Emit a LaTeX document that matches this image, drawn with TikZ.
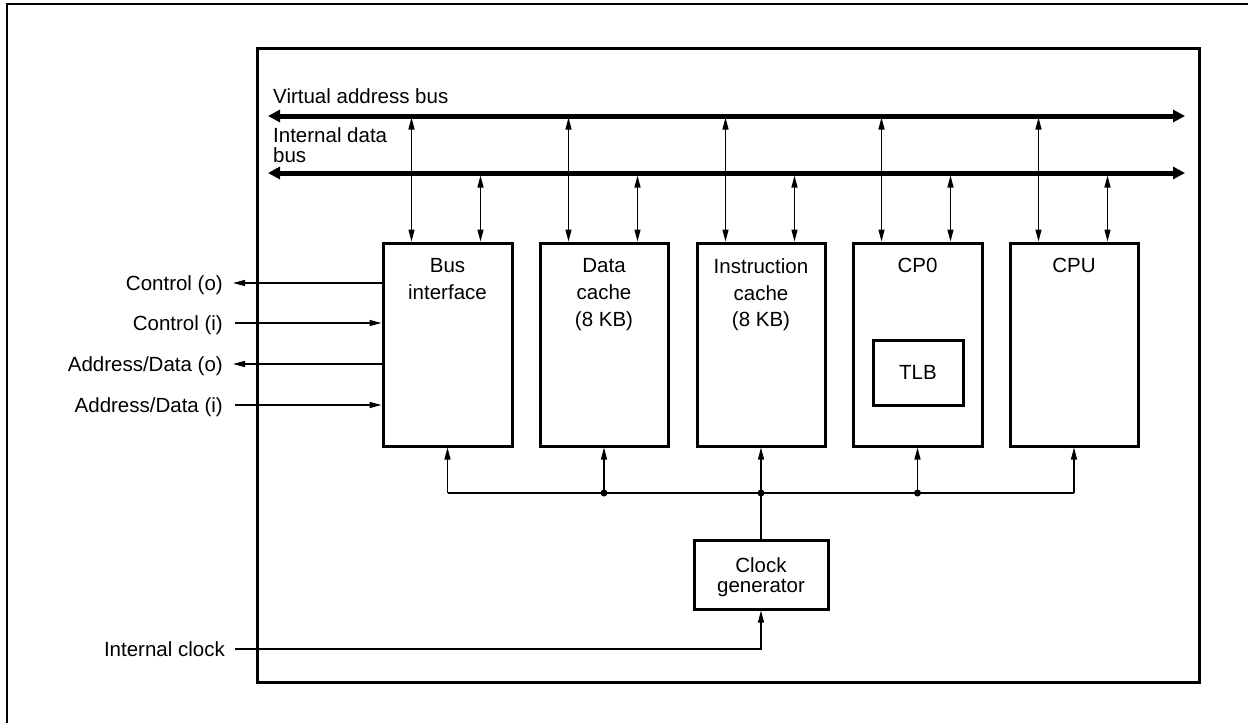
\documentclass[tikz,border=0pt]{standalone}
\usepackage{fontspec}
\setmainfont{Liberation Sans}
\usetikzlibrary{arrows.meta,calc}
\begin{document}
\begin{tikzpicture}[x=1pt,y=-1pt,
  blk/.style={draw,line width=3pt,inner sep=0pt},
  txt/.style={inner sep=0pt,align=center,font=\fontsize{20.5}{26.7}\selectfont},
  lbl/.style={inner sep=0pt,font=\fontsize{20.5}{24}\selectfont},
  thin/.style={line width=1.2pt},
  arr/.style={thin,-{Triangle[length=12pt,width=6pt]}},
  dbl/.style={thin,{Triangle[length=12pt,width=6pt]}-{Triangle[length=12pt,width=6pt]}},
  bus/.style={line width=5pt,{Triangle[length=12pt,width=12pt]}-{Triangle[length=12pt,width=12pt]}},
  dot/.style={circle,fill,inner sep=0pt,minimum size=7pt}]
\useasboundingbox (0,0) rectangle (1248,723);
% outer frame
\draw[line width=2pt] (7,723) -- (7,4) -- (1248,4);
% inner frame
\draw[line width=3pt] (257,48) rectangle (1199,682);
% buses
\coordinate (vbL) at (268,116);
\coordinate (vbR) at (1185,116);
\coordinate (dbL) at (268,173);
\coordinate (dbR) at (1185,173);
\draw[bus] (vbL) -- (vbR);
\draw[bus] (dbL) -- (dbR);
\node[lbl,anchor=base west] (vbt) at (273,103) {Virtual address bus};
\node[lbl,anchor=north west,align=left,font=\fontsize{20.5}{19.5}\selectfont] (dbt) at (273,127.5) {Internal data\\bus};
% blocks
\node[blk,minimum width=129pt,minimum height=203pt] (bi) at (447.5,344.5) {};
\node[blk,minimum width=128pt,minimum height=203pt] (dc) at (604,344.5) {};
\node[blk,minimum width=128pt,minimum height=203pt] (ic) at (761,344.5) {};
\node[blk,minimum width=129pt,minimum height=203pt] (cp) at (917.5,344.5) {};
\node[blk,minimum width=128pt,minimum height=203pt] (cpu) at (1074,344.5) {};
\node[txt,anchor=north] (bit) at (447.5,258.3) {Bus\\interface};
\node[txt,anchor=north] (dct) at (604,258.3) {Data\\cache\\(8 KB)};
\node[txt,anchor=north] (ict) at (761,258.3) {Instruction\\cache\\(8 KB)};
\node[txt,anchor=north] (cpt) at (917.5,258.3) {CP0};
\node[txt,anchor=north] (cput) at (1074,258.3) {CPU};
\node[blk,minimum width=90pt,minimum height=65pt,font=\fontsize{20.5}{24}\selectfont] (tlb) at (918,372.5) {TLB};
% bus connections
\foreach \b in {bi,dc,ic,cp,cpu}{
  \draw[dbl] ([xshift=30pt]\b.north west) -- ++(0,-124);
  \draw[dbl] ([xshift=99pt]\b.north west) -- ++(0,-66);
}
% clock generator
\node[blk,minimum width=134pt,minimum height=69pt] (cg) at (761,574.5) {};
\node[txt,anchor=north,font=\fontsize{20.5}{20.5}\selectfont] (cgt) at (761,557) {Clock\\generator};
\coordinate (jn) at (761,493);
\draw[thin] (bi.south |- jn) -- (cpu.south |- jn);
\draw[thin] (cg.north) -- (jn);
\foreach \b in {bi,dc,ic,cp,cpu}{
  \draw[arr] (\b.south |- jn) -- (\b.south);
}
\node[dot] (d1) at (dc.south |- jn) {};
\node[dot] (d2) at (jn) {};
\node[dot] (d3) at (cp.south |- jn) {};
% internal clock
\coordinate (ick) at (235,649);
\node[lbl,anchor=base east] (ickt) at (225,656) {Internal clock};
\draw[arr] (ick) -| (cg.south);
% left signals
\coordinate (co) at (233,283);
\coordinate (ci) at (235,323);
\coordinate (ao) at (233,364);
\coordinate (ai) at (235,405);
\node[lbl,anchor=base east] (cot) at (223,290) {Control (o)};
\node[lbl,anchor=base east] (cit) at (223,330) {Control (i)};
\node[lbl,anchor=base east] (aot) at (223,371) {Address/Data (o)};
\node[lbl,anchor=base east] (ait) at (223,412) {Address/Data (i)};
\draw[arr] (bi.west |- co) -- (co);
\draw[arr] (ci) -- (bi.west |- ci);
\draw[arr] (bi.west |- ao) -- (ao);
\draw[arr] (ai) -- (bi.west |- ai);
\end{tikzpicture}
\end{document}
